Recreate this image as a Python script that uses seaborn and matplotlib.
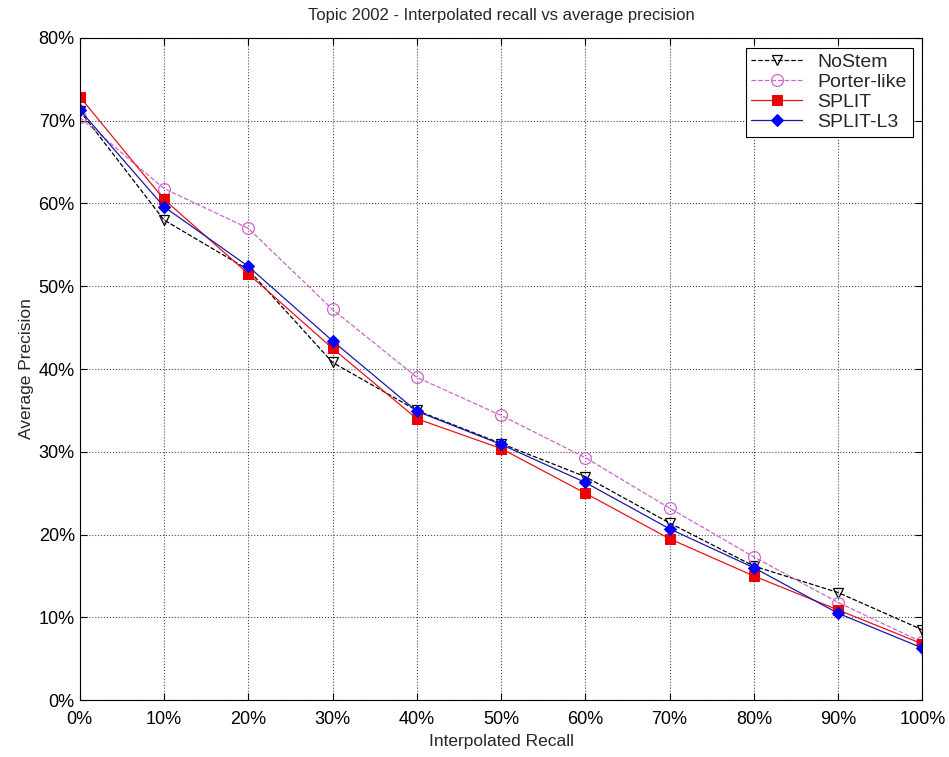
import numpy as np
import pandas as pd
import matplotlib
matplotlib.use("Agg")
import matplotlib.pyplot as plt
import seaborn as sns
from matplotlib.ticker import FuncFormatter

recall = [0, 10, 20, 30, 40, 50, 60, 70, 80, 90, 100]
nostem = [71.2, 58.0, 52.0, 40.8, 35.0, 31.0, 27.0, 21.4, 16.2, 13.0, 8.5]
porter = [70.4, 61.8, 57.0, 47.2, 39.0, 34.4, 29.3, 23.2, 17.3, 11.8, 7.0]
split = [72.9, 60.5, 51.5, 42.5, 34.0, 30.4, 25.0, 19.5, 15.0, 10.9, 6.8]
split_l3 = [71.3, 59.6, 52.4, 43.4, 34.9, 30.9, 26.3, 20.7, 16.0, 10.5, 6.3]

sns.set_style("white")
plt.rcParams['font.family'] = ['Liberation Sans', 'DejaVu Sans']

fig, ax = plt.subplots(figsize=(9.49, 7.57), dpi=100)
fig.subplots_adjust(left=0.084, right=0.972, top=0.950, bottom=0.075)

sns.lineplot(x=recall, y=nostem, ax=ax, color="black", linestyle="--", linewidth=0.9,
             marker="v", markersize=7.5, markerfacecolor="none", markeredgecolor="black",
             markeredgewidth=0.9, label="NoStem")
sns.lineplot(x=recall, y=porter, ax=ax, color="#cc66cc", linestyle="--", linewidth=0.9,
             marker="o", markersize=8.5, markerfacecolor="none", markeredgecolor="#cc66cc",
             markeredgewidth=0.9, label="Porter-like")
sns.lineplot(x=recall, y=split, ax=ax, color="#e8141e", linestyle="-", linewidth=0.9,
             marker="s", markersize=7, markerfacecolor="#ee0000", markeredgecolor="#ee0000",
             label="SPLIT")
sns.lineplot(x=recall, y=split_l3, ax=ax, color="#1a1aa8", linestyle="-", linewidth=0.9,
             marker="D", markersize=6.5, markerfacecolor="#0000ff", markeredgecolor="#0000ff",
             label="SPLIT-L3")

ax.set_xlim(0, 100)
ax.set_ylim(0, 80)
ax.set_xticks(recall)
ax.set_yticks(np.arange(0, 81, 10))
pct = FuncFormatter(lambda v, p: "%d%%" % v)
ax.xaxis.set_major_formatter(pct)
ax.yaxis.set_major_formatter(pct)
ax.tick_params(direction="in", length=5, width=0.8, labelsize=13, colors="black",
               top=True, right=True, bottom=True, left=True)
ax.tick_params(axis="x", pad=8)
ax.grid(True, linestyle=":", color="black", linewidth=0.8, alpha=0.7)
for s in ax.spines.values():
    s.set_color("black")
    s.set_linewidth(0.8)

ax.set_title("Topic 2002 - Interpolated recall vs average precision", fontsize=12, pad=13)
ax.set_xlabel("Interpolated Recall", fontsize=12.5, labelpad=4)
ax.set_ylabel("Average Precision", fontsize=12.5, labelpad=3)

leg = ax.legend(loc="upper right", fontsize=14, frameon=True, fancybox=False,
                edgecolor="black", framealpha=1, handlelength=2.6,
                borderaxespad=0.5, labelspacing=0.12, borderpad=0.3)
leg.get_frame().set_linewidth(0.8)

fig.savefig("out.png", dpi=100)
